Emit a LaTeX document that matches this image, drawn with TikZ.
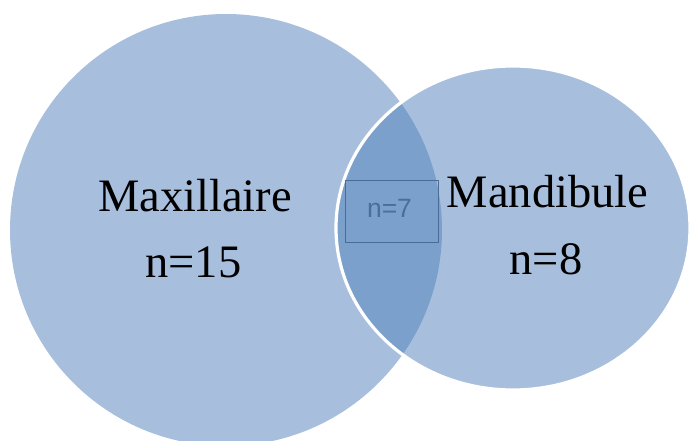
\documentclass[tikz,border=0pt]{standalone}
\usepackage{fontspec}
\setmainfont{Liberation Serif}
\newfontfamily\boxfont{Liberation Sans}
\definecolor{lightblue}{HTML}{A7BFDD}
\definecolor{darkblue}{HTML}{7BA0CC}
\definecolor{boxline}{HTML}{4A6C97}
\definecolor{boxtext}{HTML}{4D6E99}
\tikzset{
  biglabel/.style={font=\fontsize{46.5}{50}\selectfont, text=black, anchor=base, inner sep=0pt},
  smalllabel/.style={font=\boxfont\fontsize{26.5}{28}\selectfont, text=boxtext, anchor=base, inner sep=0pt},
}
\begin{document}
\begin{tikzpicture}[x=1pt,y=-1pt]
\useasboundingbox (0,0) rectangle (689,441);
\clip (0,0) rectangle (689,441);
% left circle
\fill[lightblue] (226,230) circle (216);
% right ellipse
\fill[lightblue] (513,228) ellipse [x radius=177, y radius=162];
% intersection
\begin{scope}
  \clip (226,230) circle (216);
  \fill[darkblue] (513,228) ellipse [x radius=177, y radius=162];
\end{scope}
% white outline of right ellipse
\draw[white, line width=3.2pt] (513,228) ellipse [x radius=177, y radius=162];
% box
\node[draw=boxline, line width=1.5pt, minimum width=93pt, minimum height=62pt, inner sep=0pt] (box) at (392,211.5) {};
\node[smalllabel] (n7) at (389.5,218) {n=7};
% labels
\node[biglabel] (maxi) at (195,212) {Maxillaire};
\node[biglabel] (n15) at (193.5,277) {n=15};
\node[biglabel] (mand) at (547.5,208) {Mandibule};
\node[biglabel] (n8) at (546,275) {n=8};
\end{tikzpicture}
\end{document}
